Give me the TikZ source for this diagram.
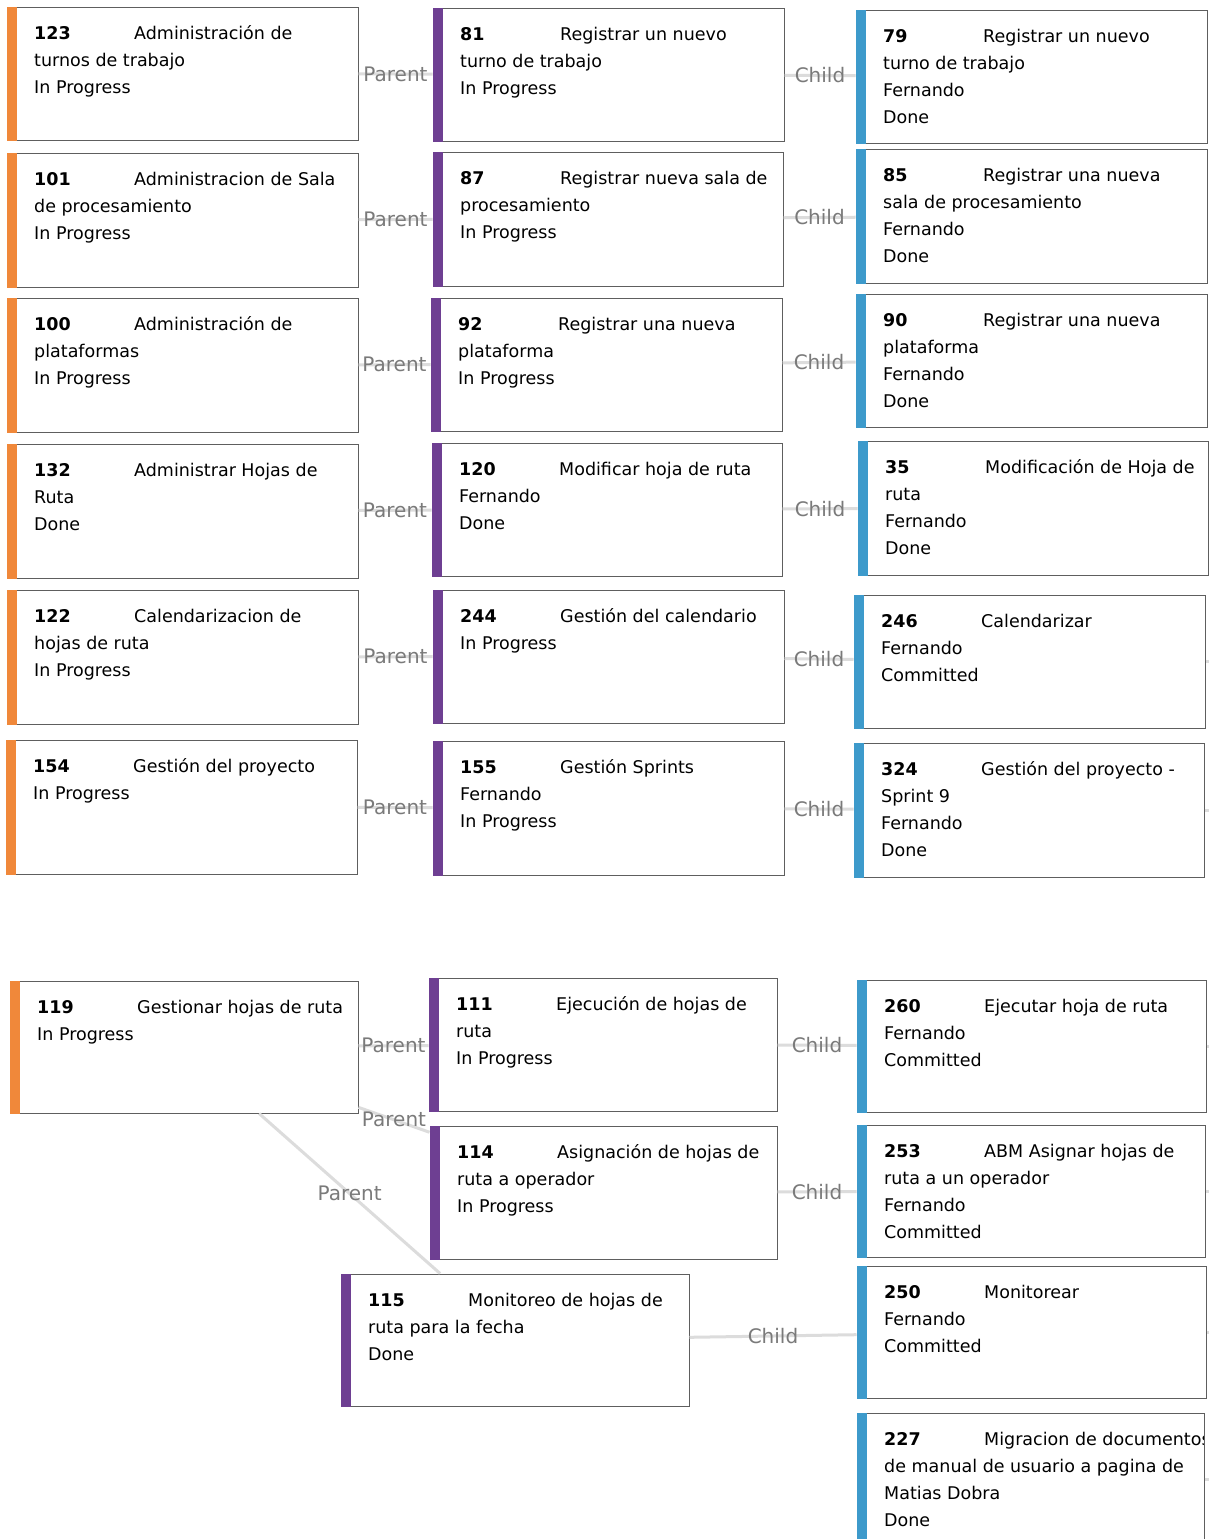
\documentclass[tikz,border=0pt]{standalone}
\usepackage{fontspec}
\setmainfont{DejaVu Sans}
\definecolor{cOrange}{HTML}{F0883A}
\definecolor{cPurple}{HTML}{6E3F92}
\definecolor{cBlue}{HTML}{3D9ACB}
\definecolor{cBorder}{HTML}{5E5E5E}
\definecolor{cLine}{HTML}{DCDCDC}
\definecolor{cLabel}{HTML}{7A7A7A}
\definecolor{cText}{HTML}{000000}
\tikzset{
  cardbox/.style={draw=cBorder, line width=1pt, fill=white, rectangle, inner sep=0pt},
  cardtext/.style={anchor=north west, inner sep=0pt, align=left, text=cText,
     font=\fontsize{17.5}{27}\selectfont},
  conn/.style={draw=cLine, line width=3pt},
  lbl/.style={text=cLabel, font=\fontsize{20}{24}\selectfont, inner sep=0pt}
}
% \mycard{name}{x1}{y1}{x2}{y2}{color}{num}{first line}{rest}
\newcommand{\mycard}[9]{%
  \node[cardbox, minimum width={#4-#2}, minimum height={#5-#3}] (#1) at ({(#2+#4)/2},{(#3+#5)/2}) {};
  \fill[#6] (#2-0.5,#3-0.5) rectangle (#2+9.5,#5+0.5);
  \begin{scope}
    \clip (#2,#3) rectangle (#4-1,#5);
    \node[cardtext] (#1t) at (#2+27,#3+13.8) {\strut\makebox[100pt][l]{\textbf{#7}}#8#9};
  \end{scope}
}
\begin{document}
\begin{tikzpicture}[x=1pt,y=-1pt]
\clip (0,0) rectangle (1209,1539);
\fill[white] (0,0) rectangle (1209,1539);

% Column 1
\mycard{c123}{7}{7}{358}{140}{cOrange}{123}{Administración de}{\\turnos de trabajo\\In Progress}
\mycard{c101}{7}{153}{358}{287}{cOrange}{101}{Administracion de Sala}{\\de procesamiento\\In Progress}
\mycard{c100}{7}{298}{358}{432}{cOrange}{100}{Administración de}{\\plataformas\\In Progress}
\mycard{c132}{7}{444}{358}{578}{cOrange}{132}{Administrar Hojas de}{\\Ruta\\Done}
\mycard{c122}{7}{590}{358}{724}{cOrange}{122}{Calendarizacion de}{\\hojas de ruta\\In Progress}
\mycard{c154}{6}{740}{357}{874}{cOrange}{154}{Gestión del proyecto}{\\In Progress}

% Column 2
\mycard{c81}{433}{8}{784}{141}{cPurple}{81}{Registrar un nuevo}{\\turno de trabajo\\In Progress}
\mycard{c87}{433}{152}{783}{286}{cPurple}{87}{Registrar nueva sala de}{\\procesamiento\\In Progress}
\mycard{c92}{431}{298}{782}{431}{cPurple}{92}{Registrar una nueva}{\\plataforma\\In Progress}
\mycard{c120}{432}{443}{782}{576}{cPurple}{120}{Modificar hoja de ruta}{\\Fernando\\Done}
\mycard{c244}{433}{590}{784}{723}{cPurple}{244}{Gestión del calendario}{\\In Progress}
\mycard{c155}{433}{741}{784}{875}{cPurple}{155}{Gestión Sprints}{\\Fernando\\In Progress}

% Column 3
\mycard{c79}{856}{10}{1207}{143}{cBlue}{79}{Registrar un nuevo}{\\turno de trabajo\\Fernando\\Done}
\mycard{c85}{856}{149}{1207}{283}{cBlue}{85}{Registrar una nueva}{\\sala de procesamiento\\Fernando\\Done}
\mycard{c90}{856}{294}{1207}{427}{cBlue}{90}{Registrar una nueva}{\\plataforma\\Fernando\\Done}
\mycard{c35}{858}{441}{1208}{575}{cBlue}{35}{Modificación de Hoja de}{\\ruta\\Fernando\\Done}
\mycard{c246}{854}{595}{1205}{728}{cBlue}{246}{Calendarizar}{\\Fernando\\Committed}
\mycard{c324}{854}{743}{1204}{877}{cBlue}{324}{Gestión del proyecto -}{\\Sprint 9\\Fernando\\Done}

% Bottom group
\mycard{c119}{10}{981}{358}{1113}{cOrange}{119}{Gestionar hojas de ruta}{\\In Progress}
\mycard{c111}{429}{978}{777}{1111}{cPurple}{111}{Ejecución de hojas de}{\\ruta\\In Progress}
\mycard{c114}{430}{1126}{777}{1259}{cPurple}{114}{Asignación de hojas de}{\\ruta a operador\\In Progress}
\mycard{c115}{341}{1274}{689}{1406}{cPurple}{115}{Monitoreo de hojas de}{\\ruta para la fecha\\Done}
\mycard{c260}{857}{980}{1206}{1112}{cBlue}{260}{Ejecutar hoja de ruta}{\\Fernando\\Committed}
\mycard{c253}{857}{1125}{1205}{1257}{cBlue}{253}{ABM Asignar hojas de}{\\ruta a un operador\\Fernando\\Committed}
\mycard{c250}{857}{1266}{1206}{1398}{cBlue}{250}{Monitorear}{\\Fernando\\Committed}
\mycard{c227}{857}{1413}{1204}{1546}{cBlue}{227}{Migracion de documentos}{\\de manual de usuario a pagina de\\Matias Dobra\\Done}

% Off-page ends
\coordinate (o246) at (1240,661.5);
\coordinate (o324) at (1240,810);
\coordinate (o260) at (1240,1046);
\coordinate (o253) at (1240,1191);
\coordinate (o250) at (1240,1332);
\coordinate (o227) at (1240,1479.5);

% Connectors
\foreach \a/\b in {c123/c81, c101/c87, c100/c92, c132/c120, c122/c244, c154/c155,
                   c119/c111, c119/c114, c119/c115}
  \draw[conn] (\a) -- (\b) node[lbl, pos=0.5] {Parent};
\foreach \a/\b in {c81/c79, c87/c85, c92/c90, c120/c35, c244/c246, c155/c324,
                   c111/c260, c114/c253, c115/c250}
  \draw[conn] (\a) -- (\b) node[lbl, pos=0.5] {Child};
\foreach \a in {246,324,260,253,250,227}
  \draw[conn] (c\a) -- (o\a);

\end{tikzpicture}
\end{document}
